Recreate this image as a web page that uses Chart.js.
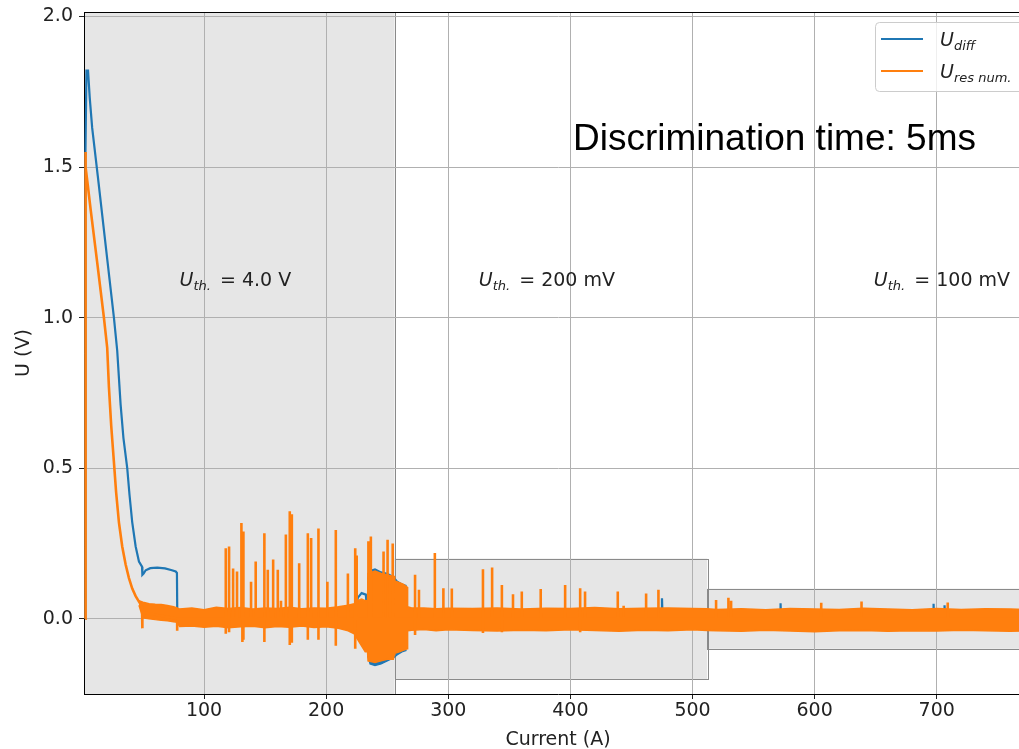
<!DOCTYPE html>
<html>
<head>
<meta charset="utf-8">
<script src="https://cdn.jsdelivr.net/npm/chart.js@4.4.1/dist/chart.umd.min.js"></script>
<style>
  html, body { margin: 0; padding: 0; background: #fff; overflow: hidden; }
  #wrap { width: 1045px; height: 749px; }
</style>
</head>
<body>
<div id="wrap"><canvas id="myChart" width="1045" height="749"></canvas></div>
<script>
// axes
const xTicks = [100, 200, 300, 400, 500, 600, 700];
const yTicks = [0.0, 0.5, 1.0, 1.5, 2.0];
const xMin = 1.7, xMax = 778, yMin = -0.25, yMax = 2.015;

// threshold windows (current range and voltage band)
const windowX0 = [1.7, 256, 512];
const windowX1 = [256, 512, 778];
const windowLo = [-0.25, -0.2, -0.1];
const windowHi = [2.015, 0.2, 0.1];
const thValues = ['4.0 V', '200 mV', '100 mV'];
const thLabelX = [80, 325, 648.5];
const thLabelY = 1.105;

// U_diff (blue)
const udiffX = [2.8, 2.9, 3.7, 5.0, 6.4, 8.4, 13, 20, 26.2, 28.9,
  31.7, 34, 37.1, 39, 41.2, 44, 46.7, 49.2, 49.5, 50.5,
  52.2, 56, 61.7, 68, 73, 76.8, 77.8, 78.1, 80, 223,
  226, 229, 232.5, 234, 266, 474.5, 475, 475.5, 571.7, 572.1,
  572.5, 697, 697.4, 697.8, 706, 706.4, 706.8, 778];
const udiffY = [0.0, 1.55, 1.82, 1.82, 1.73, 1.63, 1.47, 1.22, 1.0, 0.89,
  0.71, 0.6, 0.5, 0.41, 0.32, 0.24, 0.19, 0.173, 0.146, 0.15,
  0.161, 0.168, 0.17, 0.167, 0.162, 0.157, 0.152, 0.01, 0.005, 0.01,
  0.07, 0.085, 0.08, 0.0, 0.0, 0.0, 0.068, 0.0, 0.0, 0.051,
  0.0, 0.0, 0.05, 0.0, 0.0, 0.045, 0.0, 0.0];
// U_diff oscillation envelope around 240 A
const blueBandX = [234, 236, 240, 245, 250, 255, 258, 262, 265.8];
const blueBandHi = [0.13, 0.16, 0.165, 0.155, 0.15, 0.14, 0.125, 0.115, 0.11];
const blueBandLo = [-0.12, -0.15, -0.155, -0.15, -0.14, -0.13, -0.12, -0.11, -0.105];

// U_res num. (orange) initial decay
const uresX = [2.8, 2.8, 3.2, 4.5, 7.1, 12.6, 18, 20.7, 22.1, 24,
  26.2, 28, 30.3, 33, 35.8, 38.5, 41.2, 44, 46.7, 49.2,
  49.4, 49.6, 52];
const uresY = [0.0, 1.55, 1.5, 1.45, 1.36, 1.18, 1.0, 0.9, 0.77, 0.64,
  0.52, 0.42, 0.32, 0.24, 0.18, 0.135, 0.1, 0.075, 0.057, 0.04,
  -0.032, 0.03, 0.02];
// U_res num. spikes
const spikeUpX = [117.8, 120.5, 123.8, 127, 130.6, 132, 138.5, 142.3, 149.4, 152.2,
  156.6, 160.4, 163, 167, 170.2, 171.9, 177.9, 185, 187.7, 193.7,
  201, 207.9, 217.8, 223.8, 225, 234.6, 236.6, 247, 250.3, 254.5,
  272.8, 276, 289, 296, 302.9, 328.4, 335.9, 343.9, 353, 360.2,
  375.7, 395.7, 408, 412, 438.8, 443.6, 462, 472.1, 519.3, 529.4,
  531.6, 605.4, 638.4, 709];
const spikeUpY = [0.234, 0.24, 0.167, 0.157, 0.318, 0.29, 0.123, 0.19, 0.284, 0.163,
  0.197, 0.163, 0.06, 0.28, 0.357, 0.347, 0.184, 0.284, 0.268, 0.30,
  0.123, 0.295, 0.15, 0.234, 0.21, 0.257, 0.273, 0.223, 0.262, 0.25,
  0.146, 0.096, 0.218, 0.101, 0.1, 0.164, 0.17, 0.112, 0.081, 0.09,
  0.099, 0.112, 0.101, 0.09, 0.09, 0.043, 0.084, 0.096, 0.062, 0.07,
  0.06, 0.053, 0.057, 0.054];
const spikeDownX = [78, 117.8, 120.5, 131.4, 132.4, 149.4, 170.2, 171.9, 185, 193.7,
  207.9, 223.8, 272.8, 328.4, 343.9, 408];
const spikeDownY = [-0.04, -0.05, -0.045, -0.077, -0.07, -0.077, -0.087, -0.08, -0.07, -0.07,
  -0.09, -0.1, -0.054, -0.047, -0.045, -0.045];
// U_res num. noise envelope
const bandX = [46.7, 50, 55, 60, 65, 70, 75, 78, 80, 90,
  100, 110, 120, 130, 140, 150, 160, 170, 180, 190,
  200, 210, 218, 223, 226, 229, 232, 233.9, 234.3, 240,
  245, 250, 255, 255.8, 256.2, 260, 263, 266.3, 266.7, 270,
  280, 290, 300, 320, 340, 360, 380, 400, 420, 440,
  460, 480, 500, 512, 520, 540, 560, 580, 600, 620,
  640, 660, 680, 700, 720, 740, 760, 778];
const bandHi = [0.06, 0.055, 0.05, 0.048, 0.047, 0.044, 0.04, 0.036, 0.032, 0.036,
  0.03, 0.038, 0.034, 0.037, 0.032, 0.036, 0.034, 0.038, 0.033, 0.036,
  0.035, 0.04, 0.045, 0.05, 0.06, 0.065, 0.06, 0.06, 0.15, 0.158,
  0.15, 0.145, 0.14, 0.14, 0.125, 0.12, 0.115, 0.105, 0.04, 0.036,
  0.036, 0.033, 0.035, 0.034, 0.036, 0.032, 0.035, 0.034, 0.037, 0.033,
  0.035, 0.036, 0.034, 0.033, 0.031, 0.033, 0.03, 0.034, 0.032, 0.031,
  0.035, 0.032, 0.03, 0.034, 0.031, 0.033, 0.032, 0.03];
const bandLo = [0.045, 0.003, 0.0, -0.003, -0.005, -0.007, -0.01, -0.012, -0.026, -0.024,
  -0.028, -0.025, -0.03, -0.027, -0.025, -0.03, -0.026, -0.028, -0.024, -0.029,
  -0.027, -0.032, -0.04, -0.05, -0.07, -0.09, -0.11, -0.11, -0.14, -0.145,
  -0.14, -0.135, -0.135, -0.12, -0.115, -0.11, -0.105, -0.1, -0.04, -0.038,
  -0.036, -0.04, -0.037, -0.039, -0.041, -0.038, -0.04, -0.037, -0.039, -0.042,
  -0.038, -0.04, -0.037, -0.039, -0.04, -0.042, -0.038, -0.041, -0.043, -0.04,
  -0.039, -0.042, -0.04, -0.041, -0.038, -0.04, -0.042, -0.04];

const BLUE = '#1f77b4';
const ORANGE = '#ff7f0e';
const FONT = '"DejaVu Sans"';

function zip(xs, ys) {
  return xs.map((x, i) => ({ x: x, y: ys[i] }));
}

// decay, then baseline with vertical spikes
function uresPoints() {
  let pts = zip(uresX, uresY);
  let ev = [];
  spikeUpX.forEach((x, i) => { ev.push({x: x, y: 0}, {x: x, y: spikeUpY[i]}, {x: x, y: 0}); });
  spikeDownX.forEach((x, i) => { ev.push({x: x, y: 0}, {x: x, y: spikeDownY[i]}, {x: x, y: 0}); });
  ev.sort((a, b) => a.x - b.x);
  pts = pts.concat(ev);
  pts.push({x: xMax, y: 0});
  return pts;
}

function drawU(ctx, x, y, sub, size, subSize) {
  ctx.font = 'italic ' + size + 'px ' + FONT;
  ctx.fillText('U', x, y);
  let w = ctx.measureText('U').width;
  ctx.font = 'italic ' + subSize + 'px ' + FONT;
  ctx.fillText(sub, x + w, y + 4);
  return w + ctx.measureText(sub).width;
}

const decor = {
  id: 'decor',
  beforeDraw(chart) {
    const ctx = chart.ctx, xs = chart.scales.x, ys = chart.scales.y;
    ctx.save();
    for (let i = 0; i < windowX0.length; i++) {
      let l = xs.getPixelForValue(windowX0[i]), r = xs.getPixelForValue(windowX1[i]);
      let t = ys.getPixelForValue(windowHi[i]), b = ys.getPixelForValue(windowLo[i]);
      ctx.fillStyle = 'rgba(128,128,128,0.2)';
      ctx.fillRect(l, t, r - l, b - t);
      ctx.strokeStyle = '#8a8a8a';
      ctx.lineWidth = 1;
      ctx.strokeRect(Math.round(l) + 0.5, Math.round(t) + 0.5, Math.round(r - l), Math.round(b - t));
    }
    ctx.restore();
  },
  afterDraw(chart) {
    const ctx = chart.ctx, xs = chart.scales.x, ys = chart.scales.y, ca = chart.chartArea;
    ctx.save();
    // top spine
    ctx.strokeStyle = '#000';
    ctx.lineWidth = 1;
    ctx.beginPath();
    ctx.moveTo(ca.left, Math.round(ca.top) + 0.5);
    ctx.lineTo(ca.right, Math.round(ca.top) + 0.5);
    ctx.stroke();

    ctx.fillStyle = '#222';
    ctx.textBaseline = 'alphabetic';
    ctx.textAlign = 'left';
    // threshold labels
    for (let i = 0; i < thValues.length; i++) {
      let px = xs.getPixelForValue(thLabelX[i]), py = ys.getPixelForValue(thLabelY);
      let w = drawU(ctx, px, py, 'th.', 19, 13);
      ctx.font = '19px ' + FONT;
      ctx.fillText(' = ' + thValues[i], px + w + 3, py);
    }

    // axis titles
    ctx.font = '19px ' + FONT;
    ctx.textAlign = 'center';
    ctx.fillText('Current (A)', (ca.left + ca.right) / 2, 745);
    ctx.save();
    ctx.translate(29, (ca.top + ca.bottom) / 2);
    ctx.rotate(-Math.PI / 2);
    ctx.fillText('U (V)', 0, 0);
    ctx.restore();

    // legend
    let bw = 149, bh = 69;
    let bx = ca.right - 8 - bw, by = ca.top + 10;
    ctx.fillStyle = 'rgba(255,255,255,0.8)';
    ctx.strokeStyle = '#cccccc';
    ctx.lineWidth = 1;
    ctx.beginPath();
    ctx.roundRect(bx + 0.5, by + 0.5, bw, bh, 4);
    ctx.fill();
    ctx.stroke();
    const entries = [[BLUE, 'diff'], [ORANGE, 'res num.']];
    entries.forEach((e, i) => {
      let ly = by + 17 + i * 32;
      ctx.strokeStyle = e[0];
      ctx.lineWidth = 2;
      ctx.beginPath();
      ctx.moveTo(bx + 6, ly);
      ctx.lineTo(bx + 48, ly);
      ctx.stroke();
      ctx.fillStyle = '#222';
      ctx.textAlign = 'left';
      drawU(ctx, bx + 65, ly + 7, e[1], 19, 13);
    });

    // annotation
    ctx.fillStyle = '#000';
    ctx.font = '37px "Liberation Sans", Arial, sans-serif';
    ctx.textAlign = 'left';
    ctx.fillText('Discrimination time: 5ms', 573, 150);
    ctx.restore();
  }
};

const ctx = document.getElementById('myChart').getContext('2d');
window.myChart = new Chart(ctx, {
  type: 'line',
  data: {
    datasets: [{
      label: 'U_diff',
      data: zip(udiffX, udiffY),
      borderColor: BLUE,
      borderWidth: 2.2,
      order: 5
    }, {
      label: 'blue lo',
      data: zip(blueBandX, blueBandLo),
      borderColor: BLUE,
      borderWidth: 1.5,
      fill: false,
      order: 4
    }, {
      label: 'blue hi',
      data: zip(blueBandX, blueBandHi),
      borderColor: BLUE,
      borderWidth: 1.5,
      backgroundColor: BLUE,
      fill: 1,
      order: 4
    }, {
      label: 'orange lo',
      data: zip(bandX, bandLo),
      borderColor: ORANGE,
      borderWidth: 1.5,
      fill: false,
      order: 2
    }, {
      label: 'orange hi',
      data: zip(bandX, bandHi),
      borderColor: ORANGE,
      borderWidth: 1.5,
      backgroundColor: ORANGE,
      fill: 3,
      order: 2
    }, {
      label: 'U_res num.',
      data: uresPoints(),
      borderColor: ORANGE,
      borderWidth: 2.6,
      order: 1
    }]
  },
  options: {
    responsive: false,
    animation: false,
    layout: { padding: { left: 0, top: 12, right: 13, bottom: 0 } },
    elements: { point: { radius: 0 }, line: { tension: 0 } },
    plugins: { legend: { display: false }, tooltip: { enabled: false } },
    scales: {
      x: {
        type: 'linear', min: xMin, max: xMax,
        afterBuildTicks: s => { s.ticks = xTicks.map(v => ({ value: v })); },
        afterFit: s => { s.height = 55; s.paddingLeft = 0; s.paddingRight = 0; },
        ticks: { font: { family: 'DejaVu Sans', size: 19 }, color: '#222', padding: 1,
          maxRotation: 0, autoSkip: false, callback: v => String(v) },
        grid: { color: '#b0b0b0', lineWidth: 1, tickLength: 5, tickColor: '#222' },
        border: { display: true, color: '#000', width: 1 }
      },
      y: {
        type: 'linear', min: yMin, max: yMax,
        afterBuildTicks: s => { s.ticks = yTicks.map(v => ({ value: v })); },
        afterFit: s => { s.width = 84; s.paddingTop = 0; s.paddingBottom = 0; },
        ticks: { font: { family: 'DejaVu Sans', size: 19 }, color: '#222', padding: 6,
          autoSkip: false, callback: v => v.toFixed(1) },
        grid: { color: '#b0b0b0', lineWidth: 1, tickLength: 5, tickColor: '#222' },
        border: { display: true, color: '#000', width: 1 }
      }
    }
  },
  plugins: [decor]
});
</script>
</body>
</html>
